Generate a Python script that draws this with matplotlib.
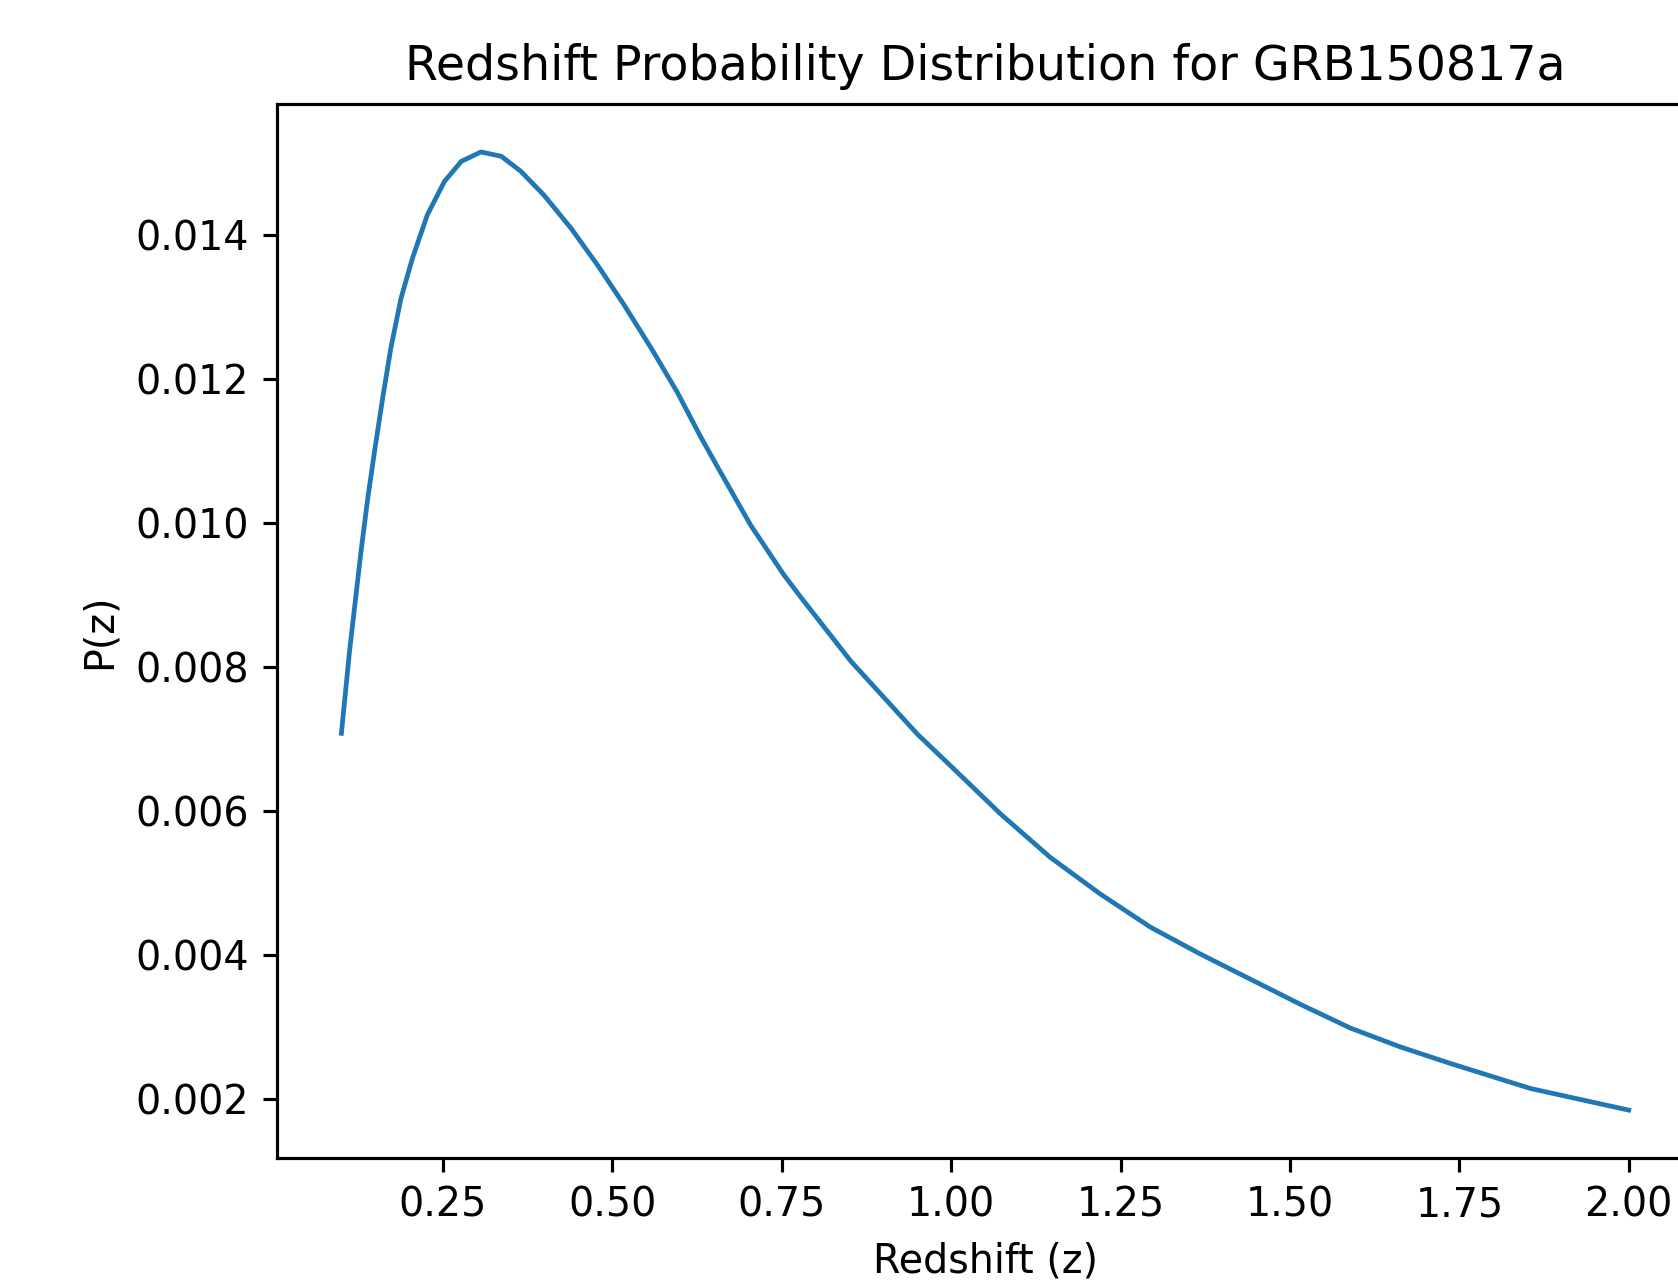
import numpy as np
import matplotlib
matplotlib.use("Agg")
import matplotlib.pyplot as plt

# redshift grid and probability
redshift = [0.100, 0.112, 0.129, 0.139, 0.149, 0.161, 0.173, 0.188, 0.205, 0.227,
            0.252, 0.277, 0.306, 0.336, 0.365, 0.399, 0.439, 0.478, 0.517, 0.557,
            0.596, 0.630, 0.655, 0.704, 0.753, 0.778, 0.852, 0.950, 0.999, 1.073,
            1.146, 1.220, 1.294, 1.367, 1.441, 1.515, 1.589, 1.662, 1.736, 1.855,
            2.000]
prob = [0.00708, 0.00822, 0.00961, 0.01035, 0.01100, 0.01174, 0.01243, 0.01312, 0.01368, 0.01428,
        0.01474, 0.01502, 0.01515, 0.01509, 0.01488, 0.01455, 0.01409, 0.01358, 0.01303, 0.01243,
        0.01181, 0.01120, 0.01078, 0.00997, 0.00928, 0.00897, 0.00808, 0.00707, 0.00663, 0.00596,
        0.00536, 0.00485, 0.00439, 0.00402, 0.00367, 0.00332, 0.00299, 0.00273, 0.00250, 0.00215,
        0.00185]

dpi = 285
fig = plt.figure(figsize=(1678 / dpi, 1280 / dpi), dpi=dpi)
# the reference is a screenshot cut off at the right, so the axes run past the edge
ax = fig.add_axes([0.1651, 0.0953, 0.8439, 0.8234])

ax.plot(redshift, prob, lw=1.2, color='#1f77b4')
ax.set_title("Redshift Probability Distribution for GRB150817a")
ax.set_xlabel("Redshift (z)")
ax.set_ylabel("P(z)")

fig.savefig("out.png", dpi=dpi)
